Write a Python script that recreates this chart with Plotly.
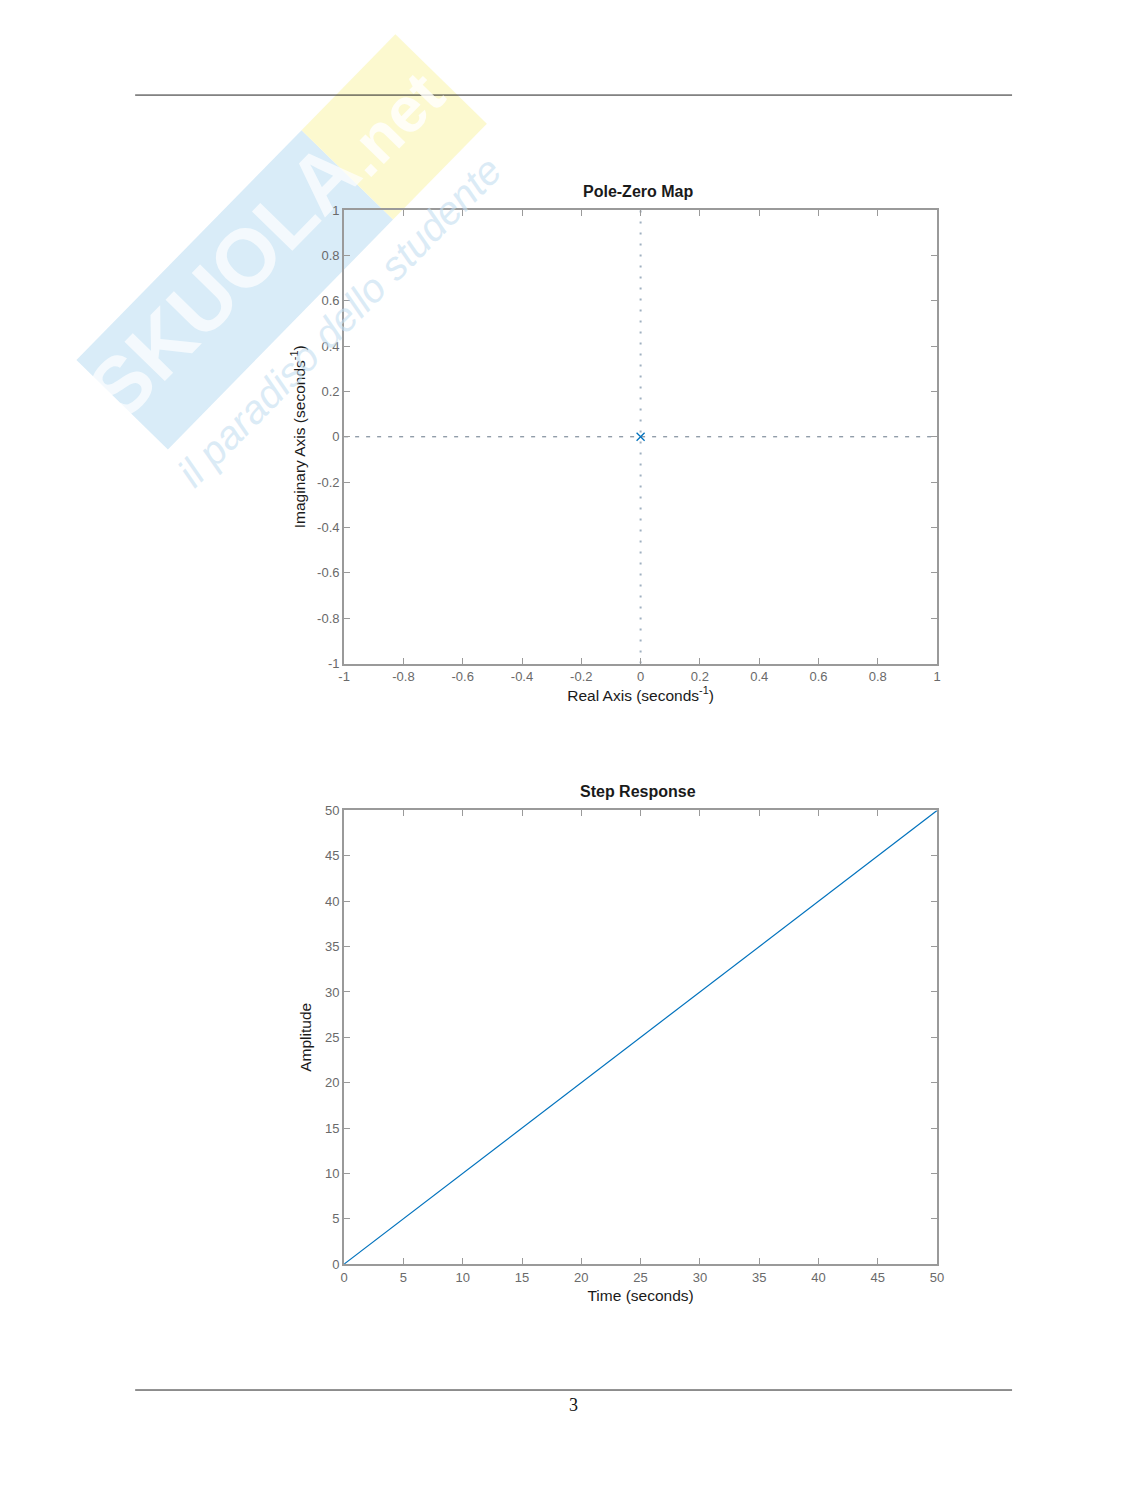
import plotly.graph_objects as go
import math

# ---- data ----
pz_ticks = [-1, -0.8, -0.6, -0.4, -0.2, 0, 0.2, 0.4, 0.6, 0.8, 1]
pz_ticklabels = ["-1", "-0.8", "-0.6", "-0.4", "-0.2", "0", "0.2", "0.4", "0.6", "0.8", "1"]
poles_re = [0]
poles_im = [0]

step_time = [0, 50]
step_amp = [0, 50]
step_xticks = [0, 5, 10, 15, 20, 25, 30, 35, 40, 45, 50]
step_yticks = [0, 5, 10, 15, 20, 25, 30, 35, 40, 45, 50]

# page geometry (page pixel -> figure paper coordinates)
OFF = 14
SX, SY = 0.9885, 0.9905
FW, FH = 1120, 1457


def px(x):
    return (x / SX - OFF) / FW


def py(y):
    return 1 - (y / SY - OFF) / FH


BLUE = "#0072BD"
AXC = "#9a9a9a"
TICKC = "#6a6a6a"
FONT = "Liberation Sans, Arial, Helvetica, sans-serif"

fig = go.Figure()

# pole-zero reference lines (dotted) and pole
fig.add_trace(go.Scatter(x=[-1, 1], y=[0, 0], mode="lines",
                         line=dict(color="#667788", width=1, dash="4px,7px"),
                         xaxis="x", yaxis="y", showlegend=False, hoverinfo="skip"))
fig.add_trace(go.Scatter(x=[0, 0], y=[-1, 1], mode="lines",
                         line=dict(color="#9fb0c0", width=2, dash="2px,9px"),
                         xaxis="x", yaxis="y", showlegend=False, hoverinfo="skip"))
fig.add_trace(go.Scatter(x=poles_re, y=poles_im, mode="markers",
                         marker=dict(symbol="x-thin", size=8, line=dict(color=BLUE, width=1.3)),
                         xaxis="x", yaxis="y", showlegend=False))

# step response
fig.add_trace(go.Scatter(x=step_time, y=step_amp, mode="lines",
                         line=dict(color=BLUE, width=1.2),
                         xaxis="x2", yaxis="y2", showlegend=False))

xd = [px(344), px(937)]
y1d = [py(663), py(209)]
y2d = [py(1264), py(810)]

axis_common = dict(showgrid=False, zeroline=False, showline=True, linecolor=AXC, linewidth=2,
                   mirror="ticks", ticks="inside", ticklen=6, tickcolor=AXC, tickwidth=1,
                   tickfont=dict(family=FONT, size=13, color=TICKC))
title_font = dict(family=FONT, size=15.5, color="#1a1a1a")

fig.update_layout(
    width=FW, height=FH, margin=dict(l=0, r=0, t=0, b=0),
    paper_bgcolor="white", plot_bgcolor="rgba(0,0,0,0)", showlegend=False,
    font=dict(family=FONT),
    xaxis=dict(domain=xd, anchor="y", range=[-1, 1], tickvals=pz_ticks, ticktext=pz_ticklabels,
               title=dict(text="Real Axis (seconds<sup>-1</sup>)", font=title_font, standoff=6),
               **axis_common),
    yaxis=dict(domain=y1d, anchor="x", range=[-1, 1], tickvals=pz_ticks, ticktext=pz_ticklabels,
               title=dict(text="Imaginary Axis (seconds<sup>-1</sup>)", font=title_font, standoff=8),
               **axis_common),
    xaxis2=dict(domain=xd, anchor="y2", range=[0, 50], tickvals=step_xticks,
                title=dict(text="Time (seconds)", font=title_font, standoff=6),
                **axis_common),
    yaxis2=dict(domain=y2d, anchor="x2", range=[0, 50], tickvals=step_yticks,
                title=dict(text="Amplitude", font=title_font, standoff=10),
                **axis_common),
)

# titles
for txt, yy in (("<b>Pole-Zero Map</b>", 191), ("<b>Step Response</b>", 791)):
    fig.add_annotation(text=txt, x=px(638), y=py(yy), xref="paper", yref="paper",
                       xanchor="center", yanchor="middle", showarrow=False,
                       font=dict(family=FONT, size=16, color="#1a1a1a"))

# page header / footer rules and page number
for yy in (94, 1390):
    fig.add_shape(type="line", xref="paper", yref="paper", x0=px(135), x1=px(1012),
                  y0=py(yy), y1=py(yy), line=dict(color="#222", width=1))
fig.add_annotation(text="3", x=px(573), y=py(1405), xref="paper", yref="paper", showarrow=False,
                   xanchor="center", yanchor="middle",
                   font=dict(family="Liberation Serif, Times New Roman, serif", size=18, color="#111"))

# ---- watermark (rotated band: blue part + yellow square) ----
c0 = (122.0, 404.0)
c1 = (441.0, 78.0)
L = math.hypot(c1[0] - c0[0], c1[1] - c0[1])
u = ((c1[0] - c0[0]) / L, (c1[1] - c0[1]) / L)
n = (-u[1], u[0])
hw = 64.0
ang = math.degrees(math.atan2(u[1], u[0]))


def band(t0, t1):
    pts = []
    for t, s in ((t0, -1), (t1, -1), (t1, 1), (t0, 1)):
        x = c0[0] + u[0] * t + n[0] * hw * s
        y = c0[1] + u[1] * t + n[1] * hw * s
        pts.append(f"{px(x):.5f},{py(y):.5f}")
    return "M " + " L ".join(pts) + " Z"


fig.add_shape(type="path", xref="paper", yref="paper", path=band(0, 322), layer="below",
              fillcolor="#d9ecf8", line=dict(width=0))
fig.add_shape(type="path", xref="paper", yref="paper", path=band(322, L), layer="below",
              fillcolor="#fcf9cf", line=dict(width=0))


def along(t, off=0.0):
    return (c0[0] + u[0] * t + n[0] * off, c0[1] + u[1] * t + n[1] * off)


sx, sy = along(160, -15)
fig.add_annotation(text="<b>SKUOLA</b>", x=px(sx), y=py(sy), xref="paper", yref="paper",
                   xanchor="center", yanchor="middle", showarrow=False, textangle=ang,
                   font=dict(family=FONT, size=82, color="rgba(255,255,255,0.7)"))
nx, ny = along(390, -4)
fig.add_annotation(text="<b>.net</b>", x=px(nx), y=py(ny), xref="paper", yref="paper",
                   xanchor="center", yanchor="middle", showarrow=False, textangle=ang,
                   font=dict(family=FONT, size=64, color="rgba(255,255,255,0.8)"))
ix, iy = along(212, 97)
fig.add_annotation(text="<i>il paradiso dello studente</i>", x=px(ix), y=py(iy), xref="paper", yref="paper",
                   xanchor="center", yanchor="middle", showarrow=False, textangle=ang,
                   font=dict(family=FONT, size=40, color="rgba(195,222,240,0.6)"))

fig.write_html("out.html")
